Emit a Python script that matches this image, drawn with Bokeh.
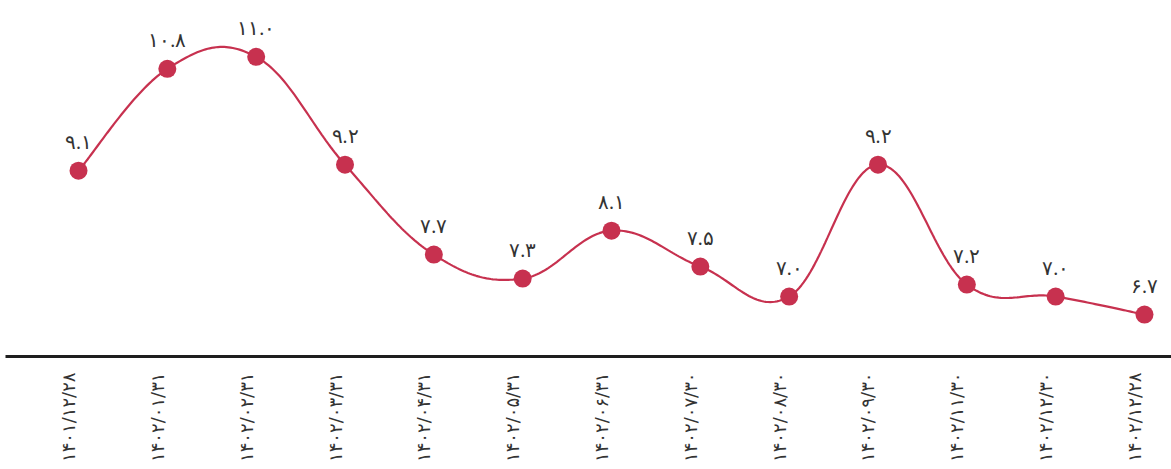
import math
import numpy as np
from bokeh.plotting import figure
from bokeh.models import (ColumnDataSource, LabelSet, Range1d, FixedTicker,
                          LinearAxis)
from bokeh.embed import file_html
from bokeh.resources import INLINE

# Month-end readings (Jalali dates)
dates = ["۱۴۰۱/۱۲/۲۸", "۱۴۰۲/۰۱/۳۱", "۱۴۰۲/۰۲/۳۱", "۱۴۰۲/۰۳/۳۱", "۱۴۰۲/۰۴/۳۱",
         "۱۴۰۲/۰۵/۳۱", "۱۴۰۲/۰۶/۳۱", "۱۴۰۲/۰۷/۳۰", "۱۴۰۲/۰۸/۳۰", "۱۴۰۲/۰۹/۳۰",
         "۱۴۰۲/۱۱/۳۰", "۱۴۰۲/۱۲/۳۰", "۱۴۰۲/۱۲/۲۸"]
values = [9.1, 10.8, 11.0, 9.2, 7.7, 7.3, 8.1, 7.5, 7.0, 9.2, 7.2, 7.0, 6.7]

FA_DIGITS = str.maketrans("0123456789", "۰۱۲۳۴۵۶۷۸۹")
value_labels = [f"{v:.1f}".translate(FA_DIGITS) for v in values]

RED = "#C7314F"
TEXT = "#333333"
FONT = "DejaVu Sans"

idx = list(range(len(values)))


def cardinal_curve(xs, ys, k=0.19, samples=40):
    """Smooth cubic curve through the points (cardinal spline, uniform)."""
    x = np.asarray(xs, dtype=float)
    y = np.asarray(ys, dtype=float)
    n = len(x)
    # tangents from neighbouring points; one-sided at the ends
    mx = np.zeros(n)
    my = np.zeros(n)
    for i in range(n):
        a = max(i - 1, 0)
        b = min(i + 1, n - 1)
        mx[i] = 3 * k * (x[b] - x[a])
        my[i] = 3 * k * (y[b] - y[a])
    px, py = [], []
    for i in range(n - 1):
        t = np.linspace(0, 1, samples, endpoint=(i == n - 2))
        h00 = 2 * t ** 3 - 3 * t ** 2 + 1
        h10 = t ** 3 - 2 * t ** 2 + t
        h01 = -2 * t ** 3 + 3 * t ** 2
        h11 = t ** 3 - t ** 2
        px.extend(h00 * x[i] + h10 * mx[i] + h01 * x[i + 1] + h11 * mx[i + 1])
        py.extend(h00 * y[i] + h10 * my[i] + h01 * y[i + 1] + h11 * my[i + 1])
    return px, py


cx, cy = cardinal_curve(idx, values)

X_START, X_END = -0.822, 12.304
p = figure(width=1171, height=469, output_backend="svg", toolbar_location=None,
           x_range=Range1d(X_START, X_END), y_range=Range1d(6.0, 11.94),
           min_border_left=5, min_border_right=0, min_border_top=0,
           min_border_bottom=113, background_fill_color="white",
           border_fill_color="white")
p.outline_line_color = None
p.grid.visible = False
p.yaxis.visible = False

# baseline
ax = p.xaxis[0]
ax.ticker = FixedTicker(ticks=[])
ax.axis_line_color = "#1E1E1E"
ax.axis_line_width = 3
ax.major_tick_line_color = None
ax.minor_tick_line_color = None
ax.major_label_text_font_size = "0px"
ax.major_label_standoff = 0

# date labels, read bottom to top, set slightly left of each point
shift = 0.1126
p.extra_x_ranges = {"dates": Range1d(X_START + shift, X_END + shift)}
date_axis = LinearAxis(x_range_name="dates", ticker=FixedTicker(ticks=idx),
                       major_label_overrides={i: d for i, d in zip(idx, dates)},
                       major_label_orientation=math.pi / 2,
                       axis_line_color=None, major_tick_line_color=None,
                       minor_tick_line_color=None, major_label_standoff=10,
                       major_label_text_font=FONT,
                       major_label_text_font_size="18px",
                       major_label_text_color=TEXT)
p.add_layout(date_axis, "below")

p.line(cx, cy, line_color=RED, line_width=2.2)
src = ColumnDataSource(dict(x=idx, y=values, lab=value_labels))
p.scatter("x", "y", source=src, size=18, fill_color=RED, line_color=None)

p.add_layout(LabelSet(x="x", y="y", text="lab", source=src, y_offset=22,
                      text_align="center", text_baseline="alphabetic",
                      text_font=FONT, text_font_size="20px", text_color=TEXT))

open("out.html", "w").write(file_html(p, INLINE))
